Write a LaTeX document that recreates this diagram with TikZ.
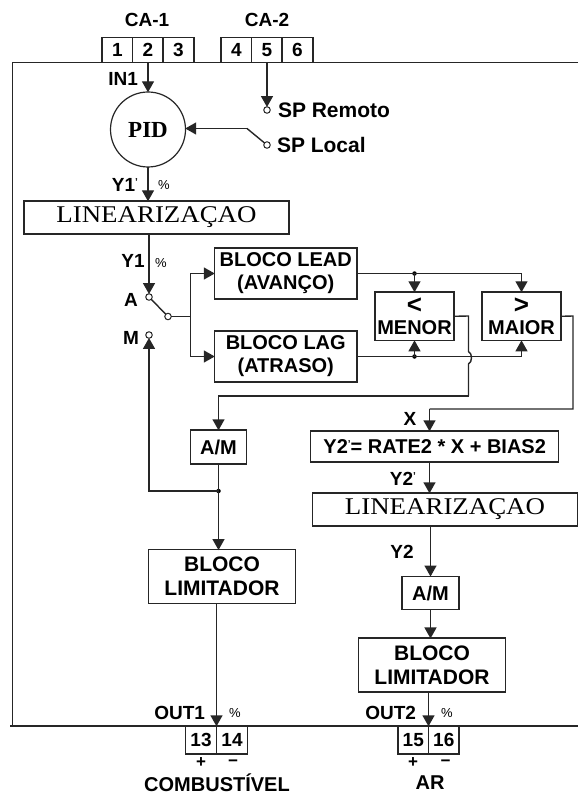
\documentclass[tikz,border=0pt]{standalone}
\usepackage{fontspec}
\usepackage{graphicx}
\setmainfont{Liberation Sans}
\newfontfamily\serifam{Liberation Serif}
\usetikzlibrary{arrows.meta}
\newcommand{\fs}[1]{\fontsize{#1}{#1}\selectfont}
\newcommand{\tick}{\raisebox{6pt}{\fs{10}\textquoteright}}
\tikzset{
  x=1pt,y=-1pt,
  every node/.style={inner sep=0pt,outer sep=0pt,font=\fs{19}\bfseries},
  ln/.style={line width=1.4pt,draw=black!85},
  arr/.style={ln,-{Triangle[length=11pt,width=12pt]},shorten >=-0.3pt},
  bx/.style={draw=black!85,line width=1.4pt,fill=white,align=center,font=\fs{20}\bfseries},
  term/.style={bx,minimum width=31,minimum height=25.5,font=\fs{19}\bfseries},
  sw/.style={circle,draw=black!85,line width=1pt,fill=white,minimum size=6.5},
  lbl/.style={font=\fs{19}\bfseries},
  pct/.style={font=\fs{13}},
  sgn/.style={font=\fs{17}\bfseries},
  dotn/.style={circle,fill=black,minimum size=4.5},
  serifbox/.style={bx,font=\fs{24}\serifam},
  limbox/.style={bx,font=\fs{21}\bfseries},
}
\begin{document}
\begin{tikzpicture}
\useasboundingbox (0,0) rectangle (578,794);
% housing
\coordinate (ftr) at (578,62.5);
\coordinate (ftl) at (12.5,62.5);
\coordinate (fbl) at (12.5,726);
\coordinate (bstart) at (10,726);
\coordinate (bend) at (578,726);
\draw[ln] (ftr) -- (ftl) -- (fbl);
\draw[ln] (bstart) -- (bend);
% terminals top
\node[lbl] (ca1) at (147,20) {CA-1};
\node[lbl] (ca2) at (267,20) {CA-2};
\node[term] (t1) at (117.5,50) {1};
\node[term] (t2) at (148,50) {2};
\node[term] (t3) at (178.5,50) {3};
\node[term] (t4) at (236.5,50) {4};
\node[term] (t5) at (267,50) {5};
\node[term] (t6) at (297.5,50) {6};
% PID
\node[circle,draw=black!85,line width=1.2pt,minimum size=75,font=\fs{23}\serifam\bfseries] (pid) at (148,129.5) {PID};
\node[lbl,anchor=east] (in1) at (138,79) {IN1};
\node[sw] (spr) at (267,110) {};
\node[sw] (spl) at (267,145) {};
\node[font=\fs{21}\bfseries,anchor=west] (sprt) at (278,110) {SP Remoto};
\node[font=\fs{21}\bfseries,anchor=west] (splt) at (277,145) {SP Local};
\coordinate (splk) at (247,128.5);
\draw[arr] (t2.south) -- (pid.north);
\draw[arr] (t5.south) -- (spr.north);
\draw[ln] (spl) -- (splk);
\draw[arr] (splk) -- (splk -| pid.east);
% linearizacao 1
\node[serifbox,minimum width=265,minimum height=33] (lin1) at (156.5,217.5) {\scalebox{1.12}[1]{LINEARIZAÇAO}};
\node[lbl,anchor=east] (y1p) at (138,185) {Y1\tick};
\node[pct] (pc1) at (164,185) {\%};
\draw[arr] (pid.south) -- (lin1.north -| pid.south);
% switch
\node[lbl] (y1) at (133,261) {Y1};
\node[pct] (pc2) at (161,263) {\%};
\node[lbl] (at) at (131,300) {A};
\node[lbl] (mt) at (131,338) {M};
\node[sw] (swa) at (149,297) {};
\node[sw] (swm) at (149,335) {};
\node[sw] (swc) at (168,316.5) {};
\coordinate (split) at (190.5,316.5);
\draw[arr] (lin1.south -| swa.north) -- (swa.north);
\draw[ln] (swa) -- (swc);
\draw[ln] (swc) -- (split);
% lead lag
\node[bx,minimum width=142.5,minimum height=51] (lead) at (285.75,273.5) {BLOCO LEAD\\[3pt](AVANÇO)};
\node[bx,minimum width=142.5,minimum height=51] (lag) at (285.75,356.5) {BLOCO LAG\\[3pt](ATRASO)};
\draw[arr] (split) |- (lead.west);
\draw[arr] (split) |- (lag.west);
% menor maior
\node[bx,minimum width=79,minimum height=48.7] (menor) at (414.5,316.3) {\fs{26}<\\[1pt]MENOR};
\node[bx,minimum width=79,minimum height=48.7] (maior) at (521.5,316.3) {\fs{26}>\\[1pt]MAIOR};
\node[dotn] (d1) at (menor.north |- lead.east) {};
\node[dotn] (d2) at (menor.south |- lag.east) {};
\draw[arr] (lead.east) -| (maior.north);
\draw[arr] (d1.center) -- (menor.north);
\draw[arr] (lag.east) -| (maior.south);
\draw[arr] (d2.center) -- (menor.south);
% A/M left
\node[bx,minimum width=56.5,minimum height=34] (am1) at (218.5,447) {A/M};
\coordinate (m1) at (468.5,316);
\coordinate (h1) at (468.5,351.5);
\coordinate (h2) at (468.5,364);
\coordinate (m2) at (468.5,396);
\draw[ln] (menor.east) -- (m1) -- (h1) .. controls (472.5,353.5) and (472.5,362) .. (h2) -- (m2);
\draw[arr] (m2) -| (am1.north);
\node[dotn] (d3) at (am1.south |- 0,491) {};
\draw[ln] (am1.south) -- (d3.center);
\draw[arr] (d3.center) -| (swm.south);
% limitador left
\node[limbox,minimum width=147,minimum height=53.5] (lim1) at (222,576.5) {BLOCO\\[3pt]LIMITADOR};
\draw[arr] (d3.center) -- (d3.center |- lim1.north);
% Y2 eq
\node[lbl] (xt) at (410,419) {X};
\node[bx,minimum width=248,minimum height=31] (eq) at (434.7,446.5) {Y2\tick= RATE2 * X + BIAS2};
\coordinate (c1) at (573,316);
\coordinate (c2) at (573,409);
\coordinate (c3) at (429.5,409);
\draw[ln] (maior.east) -- (c1) -- (c2) -- (c3);
\draw[arr] (c3) -- (c3 |- eq.north);
\node[lbl,anchor=east] (y2p) at (416,479) {Y2\tick};
% linearizacao 2
\node[serifbox,minimum width=264.5,minimum height=33] (lin2) at (445,509.5) {\scalebox{1.12}[1]{LINEARIZAÇAO}};
\draw[arr] (c3 |- eq.south) -- (c3 |- lin2.north);
\node[lbl] (y2) at (402,552) {Y2};
% A/M right
\node[bx,minimum width=57,minimum height=33.5] (am2) at (430.5,593) {A/M};
\draw[arr] (am2.north |- lin2.south) -- (am2.north);
\node[limbox,minimum width=146.5,minimum height=53.7] (lim2) at (432,665) {BLOCO\\[3pt]LIMITADOR};
\draw[arr] (am2.south) -- (am2.south |- lim2.north);
% bottom terminals
\node[term,minimum width=31,minimum height=28] (t13) at (201,740) {13};
\node[term,minimum width=31,minimum height=28] (t14) at (232,740) {14};
\node[term,minimum width=30.5,minimum height=28] (t15) at (413.25,740) {15};
\node[term,minimum width=30.5,minimum height=28] (t16) at (443.75,740) {16};
\coordinate (o1) at (t13.north east);
\coordinate (o2) at (t15.north east);
\draw[arr] (o1 |- lim1.south) -- (o1);
\draw[arr] (o2 |- lim2.south) -- (o2);
\node[lbl,anchor=east] (out1) at (205,713) {OUT1};
\node[lbl,anchor=east] (out2) at (416,713) {OUT2};
\node[pct] (pc3) at (235,713) {\%};
\node[pct] (pc4) at (447,713) {\%};
\node[sgn] (p1) at (201,763) {+};
\node[sgn] (m1t) at (233,763) {\textminus};
\node[sgn] (p2) at (413,763) {+};
\node[sgn] (m2t) at (445.5,763) {\textminus};
\node[font=\fs{20}\bfseries] (comb) at (217,782.5) {COMBUSTÍVEL};
\node[font=\fs{20}\bfseries] (ar) at (430,782.5) {AR};
\end{tikzpicture}
\end{document}
